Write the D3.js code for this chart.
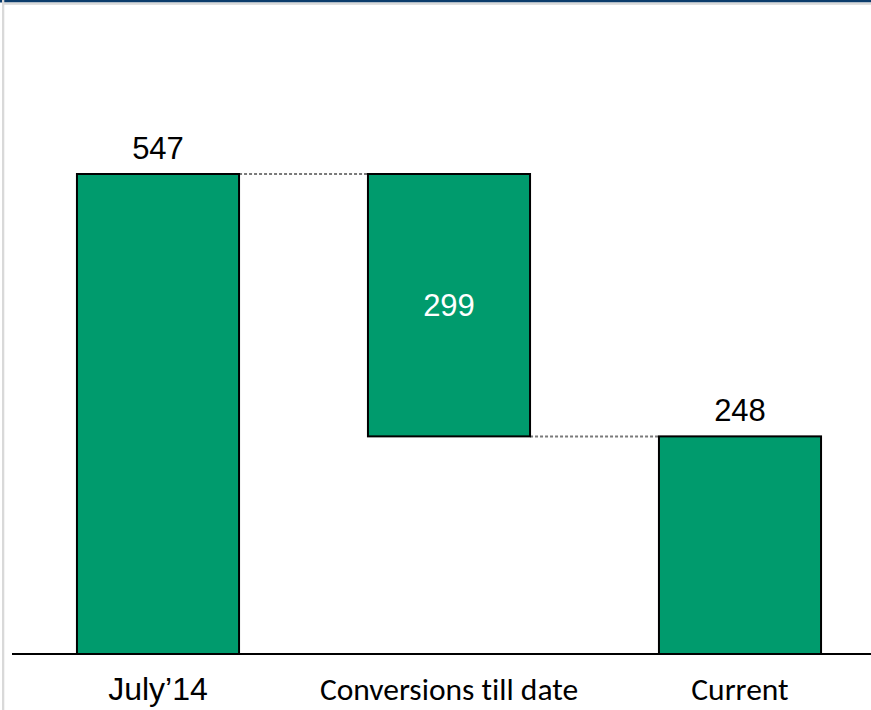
<!DOCTYPE html>
<html>
<head>
<meta charset="utf-8">
<script src="https://cdn.jsdelivr.net/npm/d3@7"></script>
<style>
  html, body { margin: 0; padding: 0; background: #fff; }
  svg { display: block; }
  text { font-variant-ligatures: none; font-feature-settings: "liga" 0, "clig" 0; }
</style>
</head>
<body>
<svg id="chart" width="871" height="710"></svg>
<script>
// ---- data ----
const categories = ["July\u201914", "Conversions till date", "Current"];
const startValue = [547];
const changeValues = [-299];
const endValue = [248];
const valueLabels = ["547", "299", "248"];

// ---- build waterfall segments ----
const segs = [];
segs.push({ cat: categories[0], y0: 0, y1: startValue[0], label: valueLabels[0], inside: false });
let running = startValue[0];
changeValues.forEach((c, i) => {
  const next = running + c;
  segs.push({ cat: categories[i + 1], y0: Math.min(running, next), y1: Math.max(running, next), label: valueLabels[i + 1], inside: true });
  running = next;
});
segs.push({ cat: categories[categories.length - 1], y0: 0, y1: endValue[0], label: valueLabels[valueLabels.length - 1], inside: false });

const svg = d3.select("#chart");
const W = 871, H = 710;

// frame decorations
svg.append("rect").attr("x", 0).attr("y", 0).attr("width", W).attr("height", 2.5).attr("fill", "#0c3c6c");
svg.append("rect").attr("x", 4).attr("y", 2.5).attr("width", W - 4).attr("height", 2.3).attr("fill", "#d9d9d9");
svg.append("rect").attr("x", 2).attr("y", 0).attr("width", 2.3).attr("height", H).attr("fill", "#d9d9d9");

const x = d3.scaleBand()
  .domain(categories)
  .range([12.5, 885.5])
  .paddingInner(0.443)
  .paddingOuter(0.2215);

const y = d3.scaleLinear()
  .domain([0, 547])
  .range([654, 174]);

// connectors
const g = svg.append("g");
for (let i = 0; i < segs.length - 1; i++) {
  const a = segs[i], b = segs[i + 1];
  const level = (i === 0) ? a.y1 : a.y0;
  g.append("line")
    .attr("x1", x(a.cat) + x.bandwidth())
    .attr("x2", x(b.cat))
    .attr("y1", y(level))
    .attr("y2", y(level))
    .attr("stroke", "#7a7a7a")
    .attr("stroke-width", 2)
    .attr("stroke-dasharray", "3,2");
}

// bars
g.selectAll("rect.bar")
  .data(segs)
  .join("rect")
  .attr("class", "bar")
  .attr("x", d => x(d.cat))
  .attr("y", d => y(d.y1))
  .attr("width", x.bandwidth())
  .attr("height", d => y(d.y0) - y(d.y1))
  .attr("fill", "#009b6d")
  .attr("stroke", "#000")
  .attr("stroke-width", 2);

// value labels
g.selectAll("text.val")
  .data(segs)
  .join("text")
  .attr("class", "val")
  .attr("x", d => x(d.cat) + x.bandwidth() / 2)
  .attr("y", d => d.inside ? (y(d.y1) + y(d.y0)) / 2 + 11 : y(d.y1) - 15)
  .attr("text-anchor", "middle")
  .attr("font-family", "Liberation Sans, Arial, sans-serif")
  .attr("font-size", 31)
  .attr("fill", d => d.inside ? "#ffffff" : "#000000")
  .text(d => d.label);

// axis baseline
svg.append("line")
  .attr("x1", 12).attr("x2", W)
  .attr("y1", y(0)).attr("y2", y(0))
  .attr("stroke", "#000").attr("stroke-width", 2);

// category labels
const catFonts = ["Liberation Sans, Arial, sans-serif", "Carlito, Lato, sans-serif", "Carlito, Lato, sans-serif"];
const catSizes = [32, 31.5, 31.5];
svg.selectAll("text.cat")
  .data(categories)
  .join("text")
  .attr("class", "cat")
  .attr("x", d => x(d) + x.bandwidth() / 2)
  .attr("y", 700)
  .attr("text-anchor", "middle")
  .attr("font-family", (d, i) => catFonts[i])
  .attr("font-size", (d, i) => catSizes[i])
  .attr("fill", "#000")
  .text(d => d);
</script>
</body>
</html>
